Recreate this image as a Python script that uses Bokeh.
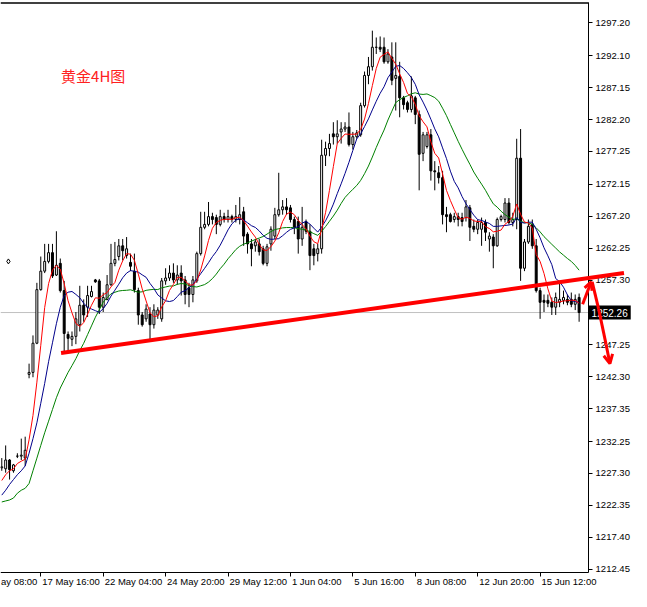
import pandas as pd
from bokeh.plotting import figure
from bokeh.models import (ColumnDataSource, FixedTicker, PrintfTickFormatter, Label,
                          Arrow, OpenHead, Range1d, LinearAxis)
from bokeh.embed import file_html
from bokeh.resources import INLINE

# ---------------- data (XAUUSD, 4H bars) ----------------
open_ = [1228.17, 1228.02, 1229.38, 1227.71, 1229.98, 1229.98, 1229.68, 1242.67, 1242.97, 1247.50,
         1255.81, 1258.68, 1260.19, 1261.55, 1258.08, 1259.89, 1255.66, 1248.86, 1248.11, 1248.56,
         1250.37, 1253.39, 1253.09, 1254.75, 1257.32, 1257.17, 1253.09, 1254.30, 1256.57, 1259.89,
         1260.95, 1262.61, 1261.10, 1260.04, 1258.68, 1255.66, 1251.88, 1251.28, 1252.03, 1250.37,
         1251.88, 1251.28, 1257.17, 1257.62, 1258.38, 1257.32, 1258.38, 1257.32, 1256.11, 1255.06,
         1257.17, 1261.40, 1265.48, 1265.93, 1267.14, 1266.99, 1265.93, 1267.14, 1266.69, 1267.14,
         1266.69, 1266.69, 1267.89, 1264.42, 1262.91, 1262.61, 1262.91, 1262.15, 1259.89, 1262.91,
         1264.12, 1267.44, 1268.20, 1268.65, 1268.50, 1266.69, 1266.38, 1263.67, 1266.38, 1264.87,
         1262.15, 1261.40, 1262.15, 1276.66, 1277.71, 1279.98, 1279.53, 1280.28, 1280.73, 1281.04,
         1278.32, 1279.53, 1279.83, 1284.36, 1289.04, 1290.40, 1293.42, 1293.42, 1293.42, 1291.16,
         1291.91, 1288.59, 1288.89, 1285.57, 1284.81, 1283.76, 1285.57, 1283.00, 1276.96, 1278.02,
         1279.83, 1274.24, 1273.94, 1273.18, 1267.44, 1267.44, 1266.69, 1267.14, 1266.99, 1266.99,
         1268.50, 1265.63, 1265.18, 1265.18, 1266.23, 1263.67, 1263.97, 1262.61, 1266.69, 1266.69,
         1269.25, 1266.23, 1266.69, 1276.20, 1259.13, 1263.21, 1265.93, 1262.61, 1255.66, 1254.15,
         1254.15, 1253.85, 1253.09, 1253.85, 1254.15, 1254.30, 1254.30, 1253.54, 1254.60]
high = [1229.68, 1231.64, 1229.53, 1228.77, 1230.43, 1232.70, 1233.00, 1244.33, 1248.71, 1256.87,
        1260.95, 1262.91, 1262.91, 1262.91, 1264.87, 1260.64, 1257.17, 1249.32, 1249.32, 1252.34,
        1256.41, 1254.30, 1256.41, 1256.41, 1257.47, 1257.47, 1255.36, 1258.08, 1262.91, 1263.21,
        1263.67, 1263.67, 1263.97, 1261.40, 1261.40, 1256.11, 1252.34, 1253.54, 1253.09, 1253.54,
        1253.09, 1257.62, 1259.13, 1259.59, 1259.89, 1259.59, 1259.59, 1257.93, 1256.87, 1257.93,
        1261.70, 1267.89, 1267.89, 1269.41, 1267.74, 1267.44, 1268.20, 1267.74, 1268.20, 1267.44,
        1268.95, 1270.16, 1268.65, 1264.72, 1263.67, 1263.67, 1263.67, 1262.61, 1262.91, 1265.63,
        1268.50, 1273.94, 1269.71, 1270.01, 1268.95, 1267.14, 1267.14, 1268.65, 1266.69, 1265.93,
        1262.91, 1262.91, 1279.07, 1278.77, 1279.98, 1281.79, 1282.09, 1281.79, 1281.79, 1283.30,
        1280.28, 1280.58, 1284.81, 1289.65, 1291.91, 1295.99, 1294.93, 1295.09, 1294.93, 1293.12,
        1294.18, 1294.18, 1291.16, 1285.87, 1285.12, 1288.89, 1285.87, 1283.60, 1280.28, 1280.28,
        1280.73, 1275.75, 1274.99, 1274.24, 1268.65, 1267.74, 1267.74, 1267.74, 1267.74, 1269.71,
        1268.95, 1266.69, 1266.69, 1266.99, 1266.69, 1264.72, 1264.42, 1266.99, 1267.44, 1270.01,
        1270.01, 1267.74, 1279.22, 1280.73, 1263.67, 1266.69, 1266.69, 1263.67, 1256.11, 1255.06,
        1255.06, 1254.60, 1255.36, 1257.17, 1255.66, 1255.06, 1255.36, 1255.06, 1255.21]
low = [1227.71, 1227.41, 1226.35, 1227.41, 1229.68, 1229.38, 1228.47, 1242.06, 1242.22, 1247.35,
       1255.66, 1258.38, 1259.89, 1257.62, 1257.93, 1255.36, 1246.29, 1246.29, 1247.05, 1247.35,
       1249.32, 1250.83, 1251.58, 1254.60, 1256.87, 1252.03, 1252.34, 1254.15, 1256.41, 1259.44,
       1260.34, 1260.34, 1260.64, 1258.68, 1255.36, 1250.37, 1250.07, 1250.83, 1247.80, 1249.77,
       1251.28, 1250.83, 1256.57, 1257.17, 1256.87, 1256.57, 1254.90, 1253.54, 1253.09, 1253.85,
       1256.87, 1261.10, 1265.18, 1265.63, 1265.93, 1264.42, 1265.63, 1266.23, 1266.23, 1266.23,
       1266.23, 1265.93, 1262.61, 1261.40, 1259.44, 1261.70, 1261.10, 1259.59, 1259.44, 1261.85,
       1263.67, 1267.14, 1267.44, 1267.44, 1266.23, 1264.42, 1261.40, 1262.61, 1264.42, 1258.83,
       1259.59, 1260.19, 1261.40, 1274.99, 1276.51, 1278.32, 1278.47, 1278.47, 1280.28, 1278.02,
       1277.56, 1279.22, 1279.53, 1284.06, 1287.68, 1289.80, 1292.37, 1292.67, 1290.86, 1290.86,
       1287.53, 1283.60, 1282.55, 1283.76, 1283.30, 1283.30, 1281.49, 1271.22, 1275.75, 1277.71,
       1272.73, 1271.22, 1272.28, 1265.93, 1264.72, 1266.23, 1266.23, 1265.63, 1265.63, 1266.38,
       1263.36, 1264.72, 1264.42, 1262.61, 1263.36, 1261.70, 1259.13, 1262.46, 1266.38, 1266.23,
       1265.93, 1265.63, 1265.18, 1257.17, 1258.68, 1262.91, 1262.15, 1255.36, 1251.28, 1252.34,
       1253.09, 1251.88, 1251.88, 1253.09, 1253.54, 1253.39, 1253.09, 1252.64, 1250.83]
close = [1228.32, 1229.38, 1227.87, 1228.62, 1229.98, 1230.13, 1230.89, 1242.97, 1247.50, 1255.81,
         1258.68, 1260.19, 1261.55, 1257.93, 1259.59, 1255.66, 1249.01, 1248.26, 1248.56, 1251.28,
         1253.39, 1251.88, 1254.90, 1255.51, 1257.02, 1253.09, 1254.60, 1256.57, 1259.89, 1260.49,
         1262.61, 1261.85, 1262.15, 1259.44, 1255.81, 1251.88, 1250.37, 1252.79, 1250.37, 1252.64,
         1252.64, 1257.17, 1257.62, 1258.38, 1257.32, 1258.08, 1257.17, 1255.06, 1255.06, 1257.32,
         1261.40, 1265.48, 1265.93, 1267.14, 1266.69, 1265.93, 1267.14, 1266.69, 1267.14, 1266.69,
         1267.14, 1267.44, 1264.12, 1262.91, 1262.15, 1263.21, 1261.70, 1259.89, 1262.46, 1265.18,
         1267.44, 1268.20, 1268.65, 1268.20, 1266.69, 1265.48, 1263.67, 1265.48, 1264.87, 1261.10,
         1261.10, 1262.15, 1276.66, 1277.71, 1278.47, 1279.53, 1279.98, 1280.73, 1281.04, 1278.32,
         1279.53, 1280.13, 1284.36, 1289.04, 1290.40, 1293.42, 1293.40, 1293.12, 1291.16, 1292.37,
         1288.29, 1289.04, 1285.57, 1284.51, 1283.76, 1285.87, 1283.00, 1276.81, 1279.83, 1279.83,
         1274.24, 1274.09, 1273.18, 1267.44, 1267.14, 1266.38, 1267.14, 1266.69, 1266.38, 1268.65,
         1265.48, 1265.18, 1266.23, 1266.23, 1264.72, 1264.12, 1262.61, 1266.69, 1267.14, 1269.25,
         1266.23, 1266.69, 1276.20, 1259.13, 1263.21, 1265.63, 1262.61, 1255.66, 1253.85, 1253.85,
         1253.70, 1253.09, 1254.60, 1254.30, 1254.60, 1253.85, 1253.54, 1254.30, 1252.26]

# moving-average values before each window is full
ma5_head = [1226.20, 1227.10, 1227.71, 1228.01]
ma10_head = [1223.93, 1224.69, 1225.59, 1226.35, 1227.10, 1227.71, 1228.46, 1230.43, 1232.69]
ma20_head = [1222.87, 1223.03, 1223.18, 1223.48, 1224.23, 1224.69, 1224.99, 1225.74, 1227.71,
             1229.67, 1231.64, 1233.60, 1235.41, 1237.22, 1239.04, 1240.55, 1241.76, 1242.97, 1244.02]

x_tick_bars = [-6, 10, 26, 42, 58, 74, 90, 106, 122, 138]
x_tick_labels = ["16 May 08:00", "17 May 16:00", "22 May 04:00", "24 May 20:00", "29 May 12:00",
                 "1 Jun 04:00", "5 Jun 16:00", "8 Jun 08:00", "12 Jun 20:00", "15 Jun 12:00"]
# the first label is cut by the chart's left edge; only its tail shows
x_label_visible = ["ay 08:00"] + x_tick_labels[1:]
y_tick_values = [1297.20, 1292.10, 1287.15, 1282.20, 1277.25, 1272.15, 1267.20, 1262.25, 1257.30,
                 1247.25, 1242.30, 1237.35, 1232.25, 1227.30, 1222.35, 1217.40, 1212.45]
last_price = 1252.26
chart_title = "黄金4H图"

# hand-drawn annotations (bar index, price)
trend_start = (15.2, 1245.99)
trend_end = (159.5, 1258.38)
up_arrow = [(148.9, 1253.54), (151.1, 1257.02)]
down_arrow = [(151.35, 1257.02), (153.0, 1252.83), (154.9, 1247.35), (155.9, 1244.33)]
marker_point = (1.7, 1260.19)

# ---------------- layout constants ----------------
W, H = 631, 591
X0, X1 = -0.325, 161.43          # whole canvas in bar units
Y0, Y1 = 1208.98, 1300.67        # whole canvas in price units
FRAME_R = 150.43                 # price-axis position (bar units)
FRAME_B = 1212.0                 # time-axis position (price units)
FRAME_T = 1300.30                # top border (price units)
font = "Liberation Sans"
fsize = "9.5px"

# ---------------- derived ----------------
n = len(close)
idx = list(range(n))
cs = pd.Series(close)
ma5 = cs.rolling(5).mean().tolist()
ma10 = cs.rolling(10).mean().tolist()
ma20 = cs.rolling(20).mean().tolist()
ma5[:len(ma5_head)] = ma5_head
ma10[:len(ma10_head)] = ma10_head
ma20[:len(ma20_head)] = ma20_head

up = [c >= o for o, c in zip(open_, close)]
src_up = ColumnDataSource(dict(
    x=[i for i in idx if up[i]],
    top=[max(open_[i], close[i]) for i in idx if up[i]],
    bottom=[min(open_[i], close[i]) for i in idx if up[i]]))
src_dn = ColumnDataSource(dict(
    x=[i for i in idx if not up[i]],
    top=[max(open_[i], close[i]) for i in idx if not up[i]],
    bottom=[min(open_[i], close[i]) for i in idx if not up[i]]))
src_wick = ColumnDataSource(dict(x=idx, high=high, low=low))

p = figure(width=W, height=H, x_range=Range1d(X0, X1), y_range=Range1d(Y0, Y1),
           output_backend="svg", toolbar_location=None,
           x_axis_location=None, y_axis_location=None,
           min_border_left=0, min_border_right=0, min_border_top=0, min_border_bottom=0,
           background_fill_color="white", border_fill_color="white", outline_line_color=None)
p.grid.visible = False

# chart box: top border
p.line(x=[X0, FRAME_R], y=[FRAME_T, FRAME_T], line_color="black", line_width=1.5)

# price axis (right side of the chart box)
yax = LinearAxis(fixed_location=FRAME_R, bounds=(FRAME_B, FRAME_T),
                 ticker=FixedTicker(ticks=y_tick_values),
                 formatter=PrintfTickFormatter(format="%.2f"))
yax.major_tick_out = 4
yax.major_tick_in = 0
yax.minor_tick_out = 0
yax.minor_tick_in = 0
yax.major_label_standoff = 3
yax.major_label_text_font = font
yax.major_label_text_font_size = fsize
yax.major_label_text_color = "black"
yax.axis_line_color = "black"
p.add_layout(yax, "right")

# time axis: tick marks only
xax = LinearAxis(fixed_location=FRAME_B, bounds=(X0, FRAME_R),
                 ticker=FixedTicker(ticks=x_tick_bars))
xax.major_label_overrides = {b: "" for b in x_tick_bars}
xax.major_tick_out = 4
xax.major_tick_in = 0
xax.minor_tick_out = 0
xax.minor_tick_in = 0
xax.axis_line_color = "black"
p.add_layout(xax, "below")

# time axis: labels, left-aligned to their tick as on the terminal
char_w = {" ": 2.64, ":": 2.64, "M": 7.9, "J": 4.75, "y": 4.75}
def text_w(s):
    return sum(char_w.get(c, 5.28) for c in s)
px_per_bar = W / (X1 - X0)
label_pos = []
for b, full, vis in zip(x_tick_bars, x_tick_labels, x_label_visible):
    right_end = b + (1.5 + text_w(full)) / px_per_bar
    label_pos.append(right_end - text_w(vis) / 2 / px_per_bar)
xlab = LinearAxis(fixed_location=FRAME_B, ticker=FixedTicker(ticks=label_pos))
xlab.major_label_overrides = {pos: t for pos, t in zip(label_pos, x_label_visible)}
xlab.axis_line_color = None
xlab.major_tick_line_color = None
xlab.minor_tick_line_color = None
xlab.major_tick_out = 0
xlab.major_tick_in = 0
xlab.minor_tick_out = 0
xlab.minor_tick_in = 0
xlab.major_label_standoff = 4
xlab.major_label_text_font = font
xlab.major_label_text_font_size = fsize
xlab.major_label_text_color = "black"
p.add_layout(xlab, "below")

# price line
p.segment(x0=[X0], y0=[last_price], x1=[FRAME_R], y1=[last_price], line_color="#C0C0C0", line_width=1)

# candles
p.segment(x0="x", y0="low", x1="x", y1="high", source=src_wick, line_color="black", line_width=1)
p.vbar(x="x", top="top", bottom="bottom", width=0.5, source=src_up,
       fill_color="white", line_color="black", line_width=1)
p.vbar(x="x", top="top", bottom="bottom", width=0.5, source=src_dn,
       fill_color="black", line_color="black", line_width=1)

# moving averages
p.line(idx, ma20, line_color="#008000", line_width=1)
p.line(idx, ma10, line_color="#00008B", line_width=1)
p.line(idx, ma5, line_color="#FF0000", line_width=1)

p.scatter([marker_point[0]], [marker_point[1]], marker="diamond", size=5,
          fill_color="white", line_color="black", line_width=1)

# title
p.add_layout(Label(x=15.2, y=1289.0, text=chart_title, text_color="#FF2020",
                   text_font="Noto Sans CJK SC", text_font_size="15px",
                   text_baseline="middle", text_align="left"))

# current price tag
p.add_layout(Label(x=FRAME_R, y=last_price, text=f"{last_price:.2f}", text_color="white",
                   background_fill_color="black", text_font=font, text_font_size="10px",
                   text_baseline="middle", text_align="left", padding=3))

# trend line and hand-drawn arrows
p.add_layout(Arrow(end=None, x_start=trend_start[0], y_start=trend_start[1],
                   x_end=trend_end[0], y_end=trend_end[1], line_color="#FF0000", line_width=4))
p.add_layout(Arrow(end=OpenHead(size=8, line_color="#FF0000", line_width=3),
                   x_start=up_arrow[0][0], y_start=up_arrow[0][1],
                   x_end=up_arrow[1][0], y_end=up_arrow[1][1], line_color="#FF0000", line_width=3))
for k in range(len(down_arrow) - 1):
    head = OpenHead(size=9, line_color="#FF0000", line_width=3) if k == len(down_arrow) - 2 else None
    p.add_layout(Arrow(end=head, x_start=down_arrow[k][0], y_start=down_arrow[k][1],
                       x_end=down_arrow[k + 1][0], y_end=down_arrow[k + 1][1],
                       line_color="#FF0000", line_width=3))

open("out.html", "w").write(file_html(p, INLINE))
